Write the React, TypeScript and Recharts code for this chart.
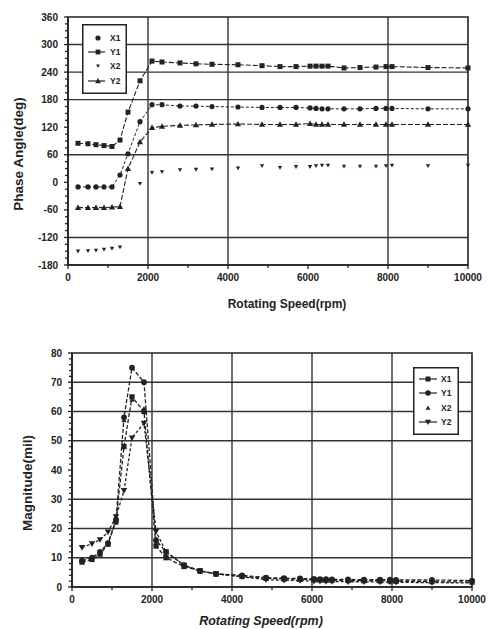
import React from 'react';
import { Legend, Line, LineChart, ReferenceArea, ReferenceLine, XAxis, YAxis, Label } from 'recharts';

const FONT = '"Liberation Sans", Arial, sans-serif';
const INK = '#222';

// rotating speeds (rpm) shared by both plots
const speeds = [250, 500, 700, 900, 1100, 1300, 1500, 1800, 2100, 2350, 2800, 3200, 3600, 4250, 4850, 5300, 5700, 6050, 6200, 6350, 6500, 6900, 7300, 7700, 7950, 8100, 9000, 10000];

// phase angle (deg)
const phaseX1 = [-10, -10, -10, -10, -10, 16, 62, 132, 169, 169, 166, 166, 165, 164, 163, 163, 163, 162, 161, 160, 160, 160, 160, 161, 161, 161, 160, 160];
const phaseY1 = [85, 84, 82, 80, 78, 92, 153, 221, 264, 262, 260, 258, 257, 256, 254, 252, 252, 253, 253, 253, 253, 249, 250, 251, 252, 252, 250, 249];
const phaseX2 = [-150, -149, -148, -146, -144, -141, null, -3, 21, 23, 27, 28, 29, 31, 36, 32, 34, 34, 36, 37, 37, 35, 35, 35, 36, 37, 36, 37];
const phaseY2 = [-55, -55, -55, -55, -54, -53, 30, 88, 119, 122, 124, 125, 126, 127, 126, 126, 126, 128, 126, 126, 126, 126, 126, 126, 126, 126, 126, 126];

// magnitude (mil)
const magX1 = [8.5, 9.4, 11.2, 14.6, 22.5, 48, 65, 60, 14, 10, 7, 5.5, 4.5, 3.6, 3.0, 2.8, 2.6, 2.5, 2.4, 2.3, 2.3, 2.2, 2.2, 2.1, 2.1, 2.0, 1.8, 1.7];
const magY1 = [9, 10, 12, 15, 23, 58, 75, 70, 16, 12, 7.5, 5.5, 4.5, 4.0, 3.2, 3.0, 2.9, 2.8, 2.7, 2.7, 2.6, 2.6, 2.5, 2.5, 2.5, 2.4, 2.4, 2.2];
const magX2 = [9, 10, 11.5, 15, 22, 57, 64, 61, 15, 11, 7, 5.2, 4.2, 3.5, 2.8, 2.6, 2.5, 2.3, 2.3, 2.2, 2.2, 2.1, 2.0, 2.0, 2.0, 1.9, 1.8, 1.6];
const magY2 = [13.5, 14.8, 16.2, 18.8, 24, 33, 51, 56, 19, 12, 7.5, 5.5, 4.5, 3.5, 2.5, 2.3, 2.2, 2.0, 2.0, 1.9, 1.9, 1.8, 1.8, 1.7, 1.7, 1.6, 1.5, 1.4];

// axes
const speedTicks = [0, 2000, 4000, 6000, 8000, 10000];
const phaseTicks = [-180, -120, -60, 0, 60, 120, 180, 240, 300, 360];
const magTicks = [0, 10, 20, 30, 40, 50, 60, 70, 80];
const phaseGridY = [300, 240, 180, 60, -120];
const phaseGridX = [2000, 4000, 8000];
const magGridY = [10, 20, 30, 50, 60, 70];
const magGridX = [2000, 4000, 6000, 8000];

const withMinor = (lo: number, hi: number, step: number) => {
  const out: number[] = [];
  for (let v = lo; v <= hi + 1e-9; v += step) out.push(Math.round(v * 100) / 100);
  return out;
};

const phaseData = speeds.map((rpm, i) => ({ rpm, X1: phaseX1[i], Y1: phaseY1[i], X2: phaseX2[i], Y2: phaseY2[i] }));
const magData = speeds.map((rpm, i) => ({ rpm, X1: magX1[i], Y1: magY1[i], X2: magX2[i], Y2: magY2[i] }));

type Kind = 'circle' | 'square' | 'tri' | 'itri';

function Marker({ kind, cx, cy, r }: { kind: Kind; cx: number; cy: number; r: number }) {
  if (kind === 'circle') return <circle cx={cx} cy={cy} r={r} fill={INK} />;
  if (kind === 'square') return <rect x={cx - r} y={cy - r} width={2 * r} height={2 * r} fill={INK} />;
  if (kind === 'tri')
    return <polygon points={`${cx},${cy - r * 1.2} ${cx - r * 1.2},${cy + r * 0.9} ${cx + r * 1.2},${cy + r * 0.9}`} fill={INK} />;
  return <polygon points={`${cx},${cy + r * 1.2} ${cx - r * 1.2},${cy - r * 0.9} ${cx + r * 1.2},${cy - r * 0.9}`} fill={INK} />;
}

const dotOf = (kind: Kind, r: number) => (p: any) => {
  if (p.cx == null || p.cy == null || p.value == null) return <g key={`d-${p.index}`} />;
  return (
    <g key={`d-${p.index}`}>
      <Marker kind={kind} cx={p.cx} cy={p.cy} r={r} />
    </g>
  );
};

const makeXTick = (majors: number[]) => (props: any) => {
  const { x, y, payload } = props;
  const major = majors.includes(payload.value);
  return (
    <g>
      <line x1={x} x2={x} y1={y} y2={y + (major ? 4 : 3)} stroke={INK} strokeWidth={1.3} />
      {major && (
        <text x={x} y={y + 16} textAnchor="middle" fontSize={10} fontWeight="bold" fontFamily={FONT} fill={INK}>
          {payload.value}
        </text>
      )}
    </g>
  );
};

const makeYTick = (majors: number[]) => (props: any) => {
  const { x, y, payload } = props;
  const major = majors.includes(payload.value);
  return (
    <g>
      <line x1={x} x2={x - (major ? 4 : 3)} y1={y} y2={y} stroke={INK} strokeWidth={1.3} />
      {major && (
        <text x={x - 10} y={y + 3.5} textAnchor="end" fontSize={10} fontWeight="bold" fontFamily={FONT} fill={INK}>
          {payload.value}
        </text>
      )}
    </g>
  );
};

type Item = { name: string; kind: Kind; line: boolean; r: number };

function LegendBox({ items, width, height, rows, mx, lx1, lx2, tx }: any) {
  return (
    <svg width={width} height={height} style={{ display: 'block' }}>
      <rect x={0.75} y={0.75} width={width - 1.5} height={height - 1.5} fill="#fff" stroke={INK} strokeWidth={1.5} />
      {items.map((it: Item, i: number) => (
        <g key={it.name}>
          {it.line && <line x1={lx1} x2={lx2} y1={rows[i]} y2={rows[i]} stroke={INK} strokeWidth={1.2} />}
          <Marker kind={it.kind} cx={mx} cy={rows[i]} r={it.r} />
          <text x={tx} y={rows[i] + 3} fontSize={8.5} fontWeight="bold" fontFamily={FONT} fill={INK}>
            {it.name}
          </text>
        </g>
      ))}
    </svg>
  );
}

const phaseLegend: Item[] = [
  { name: 'X1', kind: 'circle', line: false, r: 2.6 },
  { name: 'Y1', kind: 'square', line: true, r: 2.4 },
  { name: 'X2', kind: 'itri', line: false, r: 1.6 },
  { name: 'Y2', kind: 'tri', line: true, r: 2.4 },
];

const magLegend: Item[] = [
  { name: 'X1', kind: 'square', line: true, r: 2.5 },
  { name: 'Y1', kind: 'circle', line: true, r: 2.8 },
  { name: 'X2', kind: 'tri', line: false, r: 2.0 },
  { name: 'Y2', kind: 'itri', line: true, r: 2.6 },
];

const axisLine = { stroke: INK, strokeWidth: 1.6 };
const gridStroke = { stroke: '#333', strokeWidth: 1.4 };

function PhaseChart() {
  return (
    <LineChart width={488} height={320} data={phaseData} margin={{ top: 17, right: 20, left: 0, bottom: 0 }}>
      <XAxis
        dataKey="rpm"
        type="number"
        domain={[0, 10000]}
        ticks={withMinor(0, 10000, 1000)}
        interval={0}
        height={55}
        tickSize={0}
        tickMargin={0}
        tickLine={false}
        axisLine={axisLine}
        tick={makeXTick(speedTicks)}
      >
        <Label value="Rotating Speed(rpm)" position="center" dx={19} dy={11} fontSize={12} fontWeight="bold" fontFamily={FONT} fill={INK} />
      </XAxis>
      <YAxis
        type="number"
        domain={[-180, 360]}
        ticks={withMinor(-180, 360, 15)}
        interval={0}
        width={68}
        tickSize={0}
        tickMargin={0}
        tickLine={false}
        axisLine={axisLine}
        tick={makeYTick(phaseTicks)}
      >
        <Label value="Phase Angle(deg)" position="center" angle={-90} dx={-16} dy={13} fontSize={13.5} fontWeight="bold" fontFamily={FONT} fill={INK} />
      </YAxis>
      {phaseGridY.map((v) => (
        <ReferenceLine key={`gy${v}`} y={v} {...gridStroke} />
      ))}
      {phaseGridX.map((v) => (
        <ReferenceLine key={`gx${v}`} x={v} {...gridStroke} />
      ))}
      <ReferenceArea x1={0} x2={10000} y1={-180} y2={360} fill="none" stroke={INK} strokeWidth={1.6} />
      <Line dataKey="X1" stroke={INK} strokeWidth={1} strokeDasharray="3 2" dot={dotOf('circle', 2.6)} isAnimationActive={false} />
      <Line dataKey="Y1" stroke={INK} strokeWidth={1.1} strokeDasharray="5 2" dot={dotOf('square', 2.5)} isAnimationActive={false} />
      <Line dataKey="X2" stroke="none" dot={dotOf('itri', 1.8)} isAnimationActive={false} />
      <Line dataKey="Y2" stroke={INK} strokeWidth={1.1} strokeDasharray="5 2" dot={dotOf('tri', 2.6)} isAnimationActive={false} />
      <Legend
        layout="vertical"
        align="center"
        verticalAlign="middle"
        wrapperStyle={{ left: 82, top: 24, width: 45, height: 70 }}
        content={() => <LegendBox items={phaseLegend} width={45} height={70} rows={[14, 28, 42, 57]} mx={16} lx1={6} lx2={23} tx={28} />}
      />
    </LineChart>
  );
}

function MagnitudeChart() {
  return (
    <LineChart width={488} height={309} data={magData} margin={{ top: 33, right: 16, left: 0, bottom: 0 }}>
      <XAxis
        dataKey="rpm"
        type="number"
        domain={[0, 10000]}
        ticks={withMinor(0, 10000, 1000)}
        interval={0}
        height={42}
        tickSize={0}
        tickMargin={0}
        tickLine={false}
        axisLine={axisLine}
        tick={makeXTick(speedTicks)}
      >
        <Label value="Rotating Speed(rpm)" position="center" dx={-11} dy={13} fontSize={12.5} fontWeight="bold" fontStyle="italic" fontFamily={FONT} fill={INK} />
      </XAxis>
      <YAxis
        type="number"
        domain={[0, 80]}
        ticks={withMinor(0, 80, 2)}
        interval={0}
        width={72}
        tickSize={0}
        tickMargin={0}
        tickLine={false}
        axisLine={axisLine}
        tick={makeYTick(magTicks)}
      >
        <Label value="Magnitude(mil)" position="center" angle={-90} dx={-9} dy={13} fontSize={13.5} fontWeight="bold" fontFamily={FONT} fill={INK} />
      </YAxis>
      {magGridY.map((v) => (
        <ReferenceLine key={`gy${v}`} y={v} {...gridStroke} />
      ))}
      {magGridX.map((v) => (
        <ReferenceLine key={`gx${v}`} x={v} {...gridStroke} />
      ))}
      <ReferenceArea x1={0} x2={10000} y1={0} y2={80} fill="none" stroke={INK} strokeWidth={1.6} />
      <Line dataKey="X1" stroke={INK} strokeWidth={1.3} strokeDasharray="4 2" dot={dotOf('square', 2.6)} isAnimationActive={false} />
      <Line dataKey="Y1" stroke={INK} strokeWidth={1.3} strokeDasharray="4 2" dot={dotOf('circle', 2.9)} isAnimationActive={false} />
      <Line dataKey="X2" stroke="none" dot={dotOf('tri', 2.2)} isAnimationActive={false} />
      <Line dataKey="Y2" stroke={INK} strokeWidth={1.3} strokeDasharray="3 2" dot={dotOf('itri', 2.7)} isAnimationActive={false} />
      <Legend
        layout="vertical"
        align="center"
        verticalAlign="middle"
        wrapperStyle={{ left: 413, top: 47, width: 46, height: 68 }}
        content={() => <LegendBox items={magLegend} width={46} height={68} rows={[12, 26, 41, 55]} mx={15} lx1={6} lx2={24} tx={28} />}
      />
    </LineChart>
  );
}

export default function App() {
  return (
    <div style={{ position: 'absolute', left: 0, top: 0, width: 488, height: 629, background: '#fff' }}>
      <div style={{ position: 'absolute', left: 0, top: 0 }}>
        <PhaseChart />
      </div>
      <div style={{ position: 'absolute', left: 0, top: 320 }}>
        <MagnitudeChart />
      </div>
    </div>
  );
}
